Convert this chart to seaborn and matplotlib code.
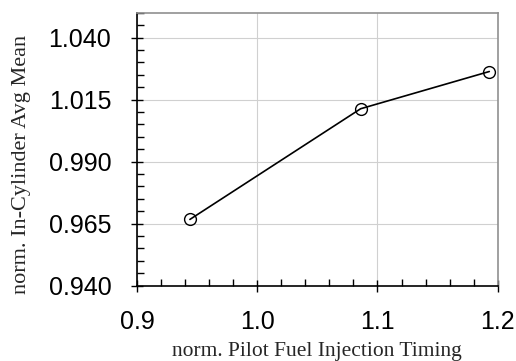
import matplotlib
matplotlib.use('Agg')
import matplotlib.pyplot as plt
from matplotlib.ticker import MultipleLocator
import seaborn as sns
import pandas as pd

timing = [0.944, 1.086, 1.193]
avg_mean = [0.9667, 1.0113, 1.0263]
x_ticks = [0.9, 1.0, 1.1, 1.2]
x_labels = ['0.9', '1.0', '1.1', '1.2']
y_ticks = [0.940, 0.965, 0.990, 1.015, 1.040]
y_labels = ['0.940', '0.965', '0.990', '1.015', '1.040']

df = pd.DataFrame({'timing': timing, 'avg_mean': avg_mean})

sns.set_style('white')
plt.rcParams['font.family'] = ['Liberation Sans', 'DejaVu Sans']

fig = plt.figure(figsize=(5.16, 3.61), dpi=100)
ax = fig.add_axes([137 / 516, 1 - 285.7 / 361, (497.7 - 137) / 516, (285.7 - 12.7) / 361])

sns.lineplot(data=df, x='timing', y='avg_mean', ax=ax, color='black', linewidth=1.2,
             marker='o', markersize=8.5, markerfacecolor='none', markeredgecolor='black',
             markeredgewidth=1.0)

ax.set_xlim(0.9, 1.2)
ax.set_ylim(0.940, 1.050)
ax.set_xticks(x_ticks)
ax.set_xticklabels(x_labels)
ax.set_yticks(y_ticks)
ax.set_yticklabels(y_labels)
ax.xaxis.set_minor_locator(MultipleLocator(0.02))
ax.yaxis.set_minor_locator(MultipleLocator(0.005))

ax.grid(True, which='major', color='#d0d0d0', linewidth=0.8)
ax.set_axisbelow(True)
ax.tick_params(which='major', direction='inout', length=9, width=1, labelsize=18, colors='black')
ax.tick_params(which='minor', direction='in', length=5, width=1, colors='black')
ax.tick_params(axis='x', which='both', bottom=True, top=False, pad=13)
ax.tick_params(axis='y', which='both', left=True, right=False, pad=14)

for s in ['left', 'bottom']:
    ax.spines[s].set_color('black')
    ax.spines[s].set_linewidth(1.2)
for s in ['top', 'right']:
    ax.spines[s].set_color('#909090')
    ax.spines[s].set_linewidth(1.2)

ax.set_xlabel('norm. Pilot Fuel Injection Timing', family=['Liberation Serif'], fontsize=15.5, labelpad=6)
ax.set_ylabel('norm. In-Cylinder Avg Mean', family=['Liberation Serif'], fontsize=16)
ax.yaxis.set_label_coords(-0.294, 0.446)

fig.savefig('out.png', dpi=100)
